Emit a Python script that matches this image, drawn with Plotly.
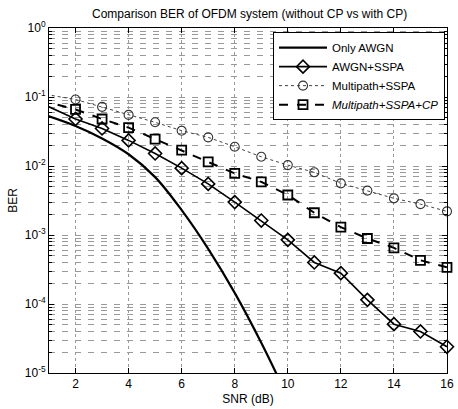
import plotly.graph_objects as go

snr = list(range(0, 17))

snr_awgn = list(range(0, 11))
ber_awgn = [0.069, 0.0525, 0.038, 0.0251, 0.0148, 0.0069, 0.00229, 6.3e-4, 1.45e-4, 2.75e-5, 4.4e-6]

ber_awgn_sspa = [0.10, 0.072, 0.048, 0.035, 0.0235, 0.0152, 0.0093, 0.0055, 0.0030, 0.00162,
                 0.00085, 0.00040, 0.00028, 0.000115, 5.1e-5, 4.0e-5, 2.4e-5]
ber_mp_sspa = [0.13, 0.107, 0.092, 0.072, 0.055, 0.043, 0.0325, 0.026, 0.019, 0.0136,
               0.0103, 0.0081, 0.0056, 0.0044, 0.0034, 0.0028, 0.0022]
ber_mp_sspa_cp = [0.10, 0.083, 0.066, 0.048, 0.036, 0.0245, 0.017, 0.0115, 0.0078, 0.0059,
                  0.0038, 0.0021, 0.0013, 0.00089, 0.00065, 0.00043, 0.00034]

names = ["Only AWGN", "AWGN+SSPA", "Multipath+SSPA", "<i>Multipath+SSPA+CP</i>"]
x_ticks = [2, 4, 6, 8, 10, 12, 14, 16]
y_major = [1e-5, 1e-4, 1e-3, 1e-2, 1e-1, 1]
y_major_text = ["10<sup>-5</sup>", "10<sup>-4</sup>", "10<sup>-3</sup>", "10<sup>-2</sup>",
                "10<sup>-1</sup>", "10<sup>0</sup>"]
y_minor = [m * d for d in [1e-5, 1e-4, 1e-3, 1e-2, 1e-1] for m in range(2, 10)]

FONT = "Liberation Sans, Arial, Helvetica, sans-serif"
FIRST_MARK = 2  # markers are shown from SNR = 2 dB onwards

fig = go.Figure()
fig.add_trace(go.Scatter(x=snr_awgn, y=ber_awgn, name=names[0], mode="lines",
                         line=dict(color="black", width=2.2, shape="spline")))

marked = [
    (ber_awgn_sspa, names[1], dict(color="black", width=1.6),
     dict(symbol="diamond-open", size=10, color="black", line=dict(width=1.6, color="black"))),
    (ber_mp_sspa, names[2], dict(color="#444444", width=1, dash="dot"),
     dict(symbol="circle-open", size=9, color="#333333", line=dict(width=1.1, color="#333333"))),
    (ber_mp_sspa_cp, names[3], dict(color="black", width=2, dash="dash"),
     dict(symbol="square-open", size=9, color="black", line=dict(width=1.8, color="black"))),
]
for ys, nm, ln, mk in marked:
    # lead-in segment entering from the left edge (no markers there)
    fig.add_trace(go.Scatter(x=snr[:FIRST_MARK + 1], y=ys[:FIRST_MARK + 1], mode="lines",
                             line=ln, showlegend=False, hoverinfo="skip"))
    fig.add_trace(go.Scatter(x=snr[FIRST_MARK:], y=ys[FIRST_MARK:], name=nm,
                             mode="lines+markers", line=ln, marker=mk, cliponaxis=False))

fig.update_layout(
    width=458, height=409,
    margin=dict(l=49, r=4, t=28, b=36),
    paper_bgcolor="white", plot_bgcolor="white",
    font=dict(family=FONT, size=12, color="black"),
    title=dict(text="Comparison BER of OFDM system (without CP vs with CP)",
               x=0.545, xanchor="center", y=0.967, yanchor="middle",
               font=dict(size=12, family=FONT, color="black")),
    showlegend=True,
    legend=dict(x=0.995, xanchor="right", y=0.988, yanchor="top",
                bgcolor="white", bordercolor="black", borderwidth=1,
                font=dict(size=11.5, family=FONT, color="black"),
                itemwidth=48, tracegroupgap=0),
)

fig.update_xaxes(
    range=[1, 16], tickvals=x_ticks, ticks="inside", ticklen=5, tickcolor="black",
    showline=True, linecolor="black", linewidth=1, mirror="ticks",
    showgrid=True, gridcolor="#999999", griddash="dot", gridwidth=1, zeroline=False,
    tickfont=dict(size=12, family=FONT), ticklabeloverflow="allow",
    title=dict(text="SNR (dB)", standoff=4, font=dict(size=12, family=FONT)),
)
fig.update_yaxes(
    type="log", range=[-5, 0], tickmode="array", tickvals=y_major, ticktext=y_major_text,
    ticks="inside", ticklen=5, tickcolor="black",
    showline=True, linecolor="black", linewidth=1, mirror="ticks",
    showgrid=True, gridcolor="#999999", griddash="6px,7px", gridwidth=1, zeroline=False,
    tickfont=dict(size=12, family=FONT),
    minor=dict(tickmode="array", tickvals=y_minor, ticks="inside", ticklen=3,
               tickcolor="black", showgrid=True, gridcolor="#999999",
               griddash="6px,7px", gridwidth=1),
    title=dict(text="BER", standoff=4, font=dict(size=12, family=FONT)),
)

fig.write_html("out.html")
